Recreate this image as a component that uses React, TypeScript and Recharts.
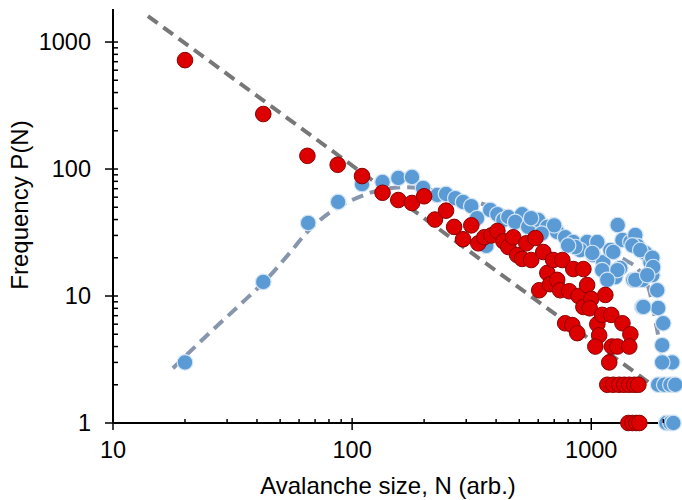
import { ComposedChart, Line, Scatter, XAxis, YAxis } from 'recharts';

const FONT = '"Liberation Sans", Arial, Helvetica, sans-serif';

// red series (N, P)
const redN = [
  20, 42.5, 65, 87, 110, 134, 156, 178, 200, 222, 247, 267, 291, 315, 337, 357, 382, 405,
  429, 450, 472, 490, 514, 535, 561, 584, 630, 655, 606, 673, 693, 720, 757, 741, 809,
  841, 927, 885, 961, 927, 1000, 985, 1145, 1060, 1079, 1040, 1111, 1213, 778, 833, 874,
  1350, 1457, 1220, 1286, 1442, 1189,
  1167, 1236, 1309, 1374, 1442, 1514, 1574,
  1429, 1486, 1543, 1589,
];
const redP = [
  720, 271, 127, 108, 88, 65, 57, 54, 61, 40, 47, 35, 28, 36, 26, 29, 30, 32.5,
  27, 24.3, 29, 21, 19.6, 26, 19.2, 28.6, 22.2, 15.2, 11.1, 12.4, 19.2, 13.4, 19.2, 11.1, 10.9,
  16.3, 16.3, 10, 12.2, 8.2, 9.5, 8, 10.2, 6, 4.9, 4, 7.1, 7.1, 6.1, 5.9, 5.1,
  6.1, 5, 4, 4, 4, 3,
  2, 2, 2, 2, 2, 2, 2,
  1, 1, 1, 1,
];

// blue series (N, P)
const blueN = [
  20, 42.5, 65.5, 87.4, 110, 134, 156, 178, 198, 227, 247, 270, 291, 315, 333, 378, 405,
  429, 450, 364, 514, 481, 545, 600, 655, 720, 778, 841, 961, 1060, 899, 1019, 1122, 1111,
  1202, 1260, 1322, 1290, 1350, 1457, 1528, 1560, 1683, 1767, 1500, 1634, 1800, 1887, 1634,
  1905, 2000, 1980, 2180, 1980, 857, 1010, 1236, 1286, 1486, 1603, 1800, 1815, 1528, 1714,
  1652, 1167, 560, 700, 620, 800,
  1905, 2020, 2142, 2245,
  2060, 2142, 2204,
];
const blueP = [
  3, 12.9, 37.6, 55, 76, 79, 85, 86.5, 71, 62.4, 63.6, 59, 55, 51, 41, 47.6, 44,
  39.7, 41.9, 24.8, 44, 38.3, 35, 39.7, 35, 31.9, 29, 26.6, 26.6, 26.6, 23, 21, 18.5, 16,
  23, 14.1, 16.6, 36.2, 27.6, 26.6, 30.2, 24.8, 21.8, 18.5, 13.4, 13.4, 14.6, 11.1, 8.2,
  8.05, 6.1, 4.1, 3, 3, 24.3, 21.8, 22.2, 16, 25, 23, 20, 16.9, 13.4, 14.6,
  8.2, 13.4, 41, 36, 31, 25,
  2, 2, 2, 2,
  1, 1, 1,
];

// power-law fit for red
const fitN = [14, 1730];
const fitP = [1600, 2.1];

// fit through the blue series
const blueFitN = [17.8, 25, 35, 43, 55, 65, 80, 100, 130, 170, 220, 300, 400, 550, 800, 1100, 1400, 1600, 1750, 1900, 2000];
const blueFitP = [2.7, 5, 9, 13, 22, 32, 45, 57, 68, 72, 68, 58, 49, 39, 29, 22.5, 19, 15.5, 11, 5, 3];

const xTicks = [10, 20, 30, 40, 50, 60, 70, 80, 90, 100, 200, 300, 400, 500, 600, 700, 800, 900, 1000, 2000];
const yTicks = [1, 2, 3, 4, 5, 6, 7, 8, 9, 10, 20, 30, 40, 50, 60, 70, 80, 90, 100, 200, 300, 400, 500, 600, 700, 800, 900, 1000];

const rows = (ns: number[], ps: number[]) => ns.map((n, i) => ({ n, p: ps[i] }));

const isMajor = (v: number) => Math.abs(Math.log10(v) - Math.round(Math.log10(v))) < 1e-9;

function XTick(props: any) {
  const { x, y, payload } = props;
  const major = isMajor(payload.value);
  return (
    <g>
      <line x1={x} x2={x} y1={y - (major ? 5 : 4)} y2={major ? y + 7 : y} stroke="#000" strokeWidth={1.5} />
      {major && (
        <text x={x} y={y + 35} textAnchor="middle" fontSize={23.5} fontFamily={FONT} fill="#000">
          {payload.value}
        </text>
      )}
    </g>
  );
}

function YTick(props: any) {
  const { x, y, payload } = props;
  const major = isMajor(payload.value);
  return (
    <g>
      <line x1={major ? x - 8 : x} x2={x + 5} y1={y} y2={y} stroke="#000" strokeWidth={1.5} />
      {major && (
        <text x={x - 22} y={y + 8} textAnchor="end" fontSize={23.5} fontFamily={FONT} fill="#000">
          {payload.value}
        </text>
      )}
    </g>
  );
}

const BlueDot = (props: any) => (
  <circle cx={props.cx} cy={props.cy} r={7.8} fill="#5b9bd5" stroke="#d3e4f4" strokeWidth={1.2} />
);
const RedDot = (props: any) => (
  <circle cx={props.cx} cy={props.cy} r={7.8} fill="#dd0000" stroke="#8c0000" strokeWidth={1} />
);

export default function App() {
  return (
    <div style={{ position: 'absolute', left: 0, top: 0, width: 682, height: 500, background: '#fff' }}>
      <ComposedChart width={682} height={500} margin={{ top: 9, right: 2, bottom: 0, left: 0 }}>
        <XAxis
          type="number"
          dataKey="n"
          scale="log"
          domain={[10, 2350]}
          ticks={xTicks}
          interval={0}
          height={77}
          tickSize={0}
          tickMargin={0}
          tickLine={false}
          tick={<XTick />}
          axisLine={{ stroke: '#000', strokeWidth: 2 }}
          label={{
            content: () => (
              <text x={388} y={494} textAnchor="middle" fontSize={24} fontFamily={FONT} fill="#000">
                Avalanche size, N (arb.)
              </text>
            ),
          }}
        />
        <YAxis
          type="number"
          dataKey="p"
          scale="log"
          domain={[1, 1820]}
          ticks={yTicks}
          interval={0}
          width={113}
          tickSize={0}
          tickMargin={0}
          tickLine={false}
          tick={<YTick />}
          axisLine={{ stroke: '#000', strokeWidth: 2 }}
          label={{
            content: () => (
              <text
                transform="translate(28,205) rotate(-90)"
                x={0}
                y={0}
                textAnchor="middle"
                fontSize={24}
                fontFamily={FONT}
                fill="#000"
              >
                Frequency P(N)
              </text>
            ),
          }}
        />
        <Line
          data={rows(blueFitN, blueFitP)}
          dataKey="p"
          type="monotone"
          stroke="#8896ad"
          strokeWidth={4}
          strokeDasharray="12 7"
          dot={false}
          activeDot={false}
          isAnimationActive={false}
        />
        <Line
          data={rows(fitN, fitP)}
          dataKey="p"
          type="linear"
          stroke="#777777"
          strokeWidth={4}
          strokeDasharray="12 7"
          dot={false}
          activeDot={false}
          isAnimationActive={false}
        />
        <Scatter data={rows(blueN, blueP)} dataKey="p" shape={<BlueDot />} isAnimationActive={false} />
        <Scatter data={rows(redN, redP)} dataKey="p" shape={<RedDot />} isAnimationActive={false} />
      </ComposedChart>
    </div>
  );
}
